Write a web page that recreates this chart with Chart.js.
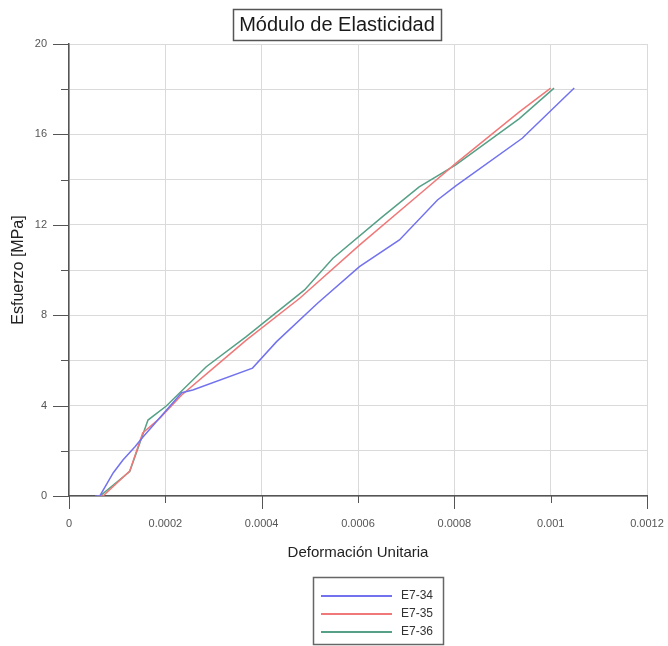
<!DOCTYPE html>
<html>
<head>
<meta charset="utf-8">
<title>Módulo de Elasticidad</title>
<script src="https://cdn.jsdelivr.net/npm/chart.js@4.4.0/dist/chart.umd.min.js"></script>
<style>
  html, body { margin: 0; padding: 0; background: #fff; }
  #wrap { width: 668px; height: 646px; position: relative; }
</style>
</head>
<body>
<div id="wrap"><canvas id="elasticChart"></canvas></div>
<script>
const chartTitle = 'Módulo de Elasticidad';
const xTitle = 'Deformación Unitaria';
const yTitle = 'Esfuerzo [MPa]';

const seriesNames = ['E7-34', 'E7-35', 'E7-36'];
const seriesColors = ['#7272ee', '#f07878', '#55a086'];

// strain (x) / stress in MPa (y)
const strainE734 = [0.000054, 0.000064, 0.000092, 0.000112, 0.000137, 0.000154, 0.000234, 0.000257, 0.000381, 0.000431, 0.000516, 0.000603, 0.000686, 0.000765, 0.000803, 0.000941, 0.001049];
const stressE734 = [0, 0, 1.03, 1.59, 2.18, 2.62, 4.57, 4.69, 5.66, 6.83, 8.53, 10.15, 11.33, 13.1, 13.72, 15.83, 18.05];

const strainE735 = [0.000058, 0.0000705, 0.000126, 0.000153, 0.000189, 0.000234, 0.000299, 0.000368, 0.000479, 0.000603, 0.000738, 0.000803, 0.000935, 0.001];
const stressE735 = [0, 0, 1.1, 2.79, 3.45, 4.47, 5.65, 6.9, 8.75, 11.1, 13.54, 14.72, 17.0, 18.05];

const strainE736 = [0.000058, 0.0000643, 0.000126, 0.000164, 0.000202, 0.000285, 0.000368, 0.000489, 0.000548, 0.000651, 0.000727, 0.000803, 0.000935, 0.001007];
const stressE736 = [0, 0, 1.08, 3.36, 3.98, 5.72, 7.05, 9.12, 10.52, 12.36, 13.68, 14.65, 16.7, 18.05];

const xMin = 0, xMax = 0.0012, xStep = 0.0002;
const yMin = 0, yMax = 20, yStep = 2;

const fontFamily = '"Liberation Sans", Arial, sans-serif';

function toPoints(xs, ys) {
  return xs.map((x, i) => ({ x: x, y: ys[i] }));
}

const allStrain = [strainE734, strainE735, strainE736];
const allStress = [stressE734, stressE735, stressE736];

const datasets = seriesNames.map((name, i) => ({
  label: name,
  data: toPoints(allStrain[i], allStress[i]),
  borderColor: seriesColors[i],
  backgroundColor: seriesColors[i],
  borderWidth: 1.5,
  pointRadius: 0,
  tension: 0,
  fill: false
}));

// boxed title at the top
const titleBox = {
  id: 'titleBox',
  afterDraw(chart) {
    const ctx = chart.ctx;
    ctx.save();
    ctx.font = '20px ' + fontFamily;
    const w = ctx.measureText(chartTitle).width;
    const cx = 337;
    ctx.strokeStyle = '#555';
    ctx.lineWidth = 1.5;
    ctx.strokeRect(Math.round(cx - w / 2 - 6) + 0.5, 9.5, Math.round(w + 12), 31);
    ctx.fillStyle = '#1a1a1a';
    ctx.textAlign = 'center';
    ctx.textBaseline = 'middle';
    ctx.fillText(chartTitle, cx, 25.5);
    ctx.restore();
  }
};

// long / short tick marks like the original plot
const axisTicks = {
  id: 'axisTicks',
  afterDraw(chart) {
    const { ctx, chartArea, scales } = chart;
    ctx.save();
    ctx.strokeStyle = '#555';
    ctx.lineWidth = 1;
    ctx.beginPath();
    scales.y.ticks.forEach(t => {
      const py = Math.round(scales.y.getPixelForValue(t.value)) + 0.5;
      const len = t.value % 4 === 0 ? 16 : 8;
      ctx.moveTo(chartArea.left - len, py);
      ctx.lineTo(chartArea.left, py);
    });
    scales.x.ticks.forEach((t, i) => {
      const px = Math.round(scales.x.getPixelForValue(t.value)) + 0.5;
      const len = i % 2 === 0 ? 13 : 7;
      ctx.moveTo(px, chartArea.bottom);
      ctx.lineTo(px, chartArea.bottom + len);
    });
    ctx.stroke();
    ctx.restore();
  }
};

// vertical legend in a box under the axis title
const boxLegend = {
  id: 'boxLegend',
  afterDraw(chart) {
    const ctx = chart.ctx;
    const left = 313, top = 577, width = 130, height = 67;
    ctx.save();
    ctx.fillStyle = '#fff';
    ctx.fillRect(left, top, width, height);
    ctx.strokeStyle = '#666';
    ctx.lineWidth = 1.5;
    ctx.strokeRect(left + 0.5, top + 0.5, width, height);
    ctx.font = '12px ' + fontFamily;
    ctx.textBaseline = 'middle';
    ctx.textAlign = 'left';
    chart.data.datasets.forEach((ds, i) => {
      const rowY = top + 19 + i * 18;
      ctx.strokeStyle = ds.borderColor;
      ctx.lineWidth = 2;
      ctx.beginPath();
      ctx.moveTo(left + 8, rowY);
      ctx.lineTo(left + 79, rowY);
      ctx.stroke();
      ctx.fillStyle = '#333';
      ctx.fillText(ds.label, left + 88, rowY);
    });
    ctx.restore();
  }
};

const ctx = document.getElementById('elasticChart').getContext('2d');

const chart = new Chart(ctx, {
  type: 'line',
  data: { datasets: datasets },
  options: {
    responsive: true,
    maintainAspectRatio: false,
    animation: false,
    layout: {
      padding: { top: 44, right: 21, bottom: 78, left: 0 }
    },
    plugins: {
      legend: { display: false },
      title: { display: false },
      tooltip: { enabled: false }
    },
    scales: {
      x: {
        type: 'linear',
        min: xMin,
        max: xMax,
        afterFit: s => {
          s.height = 72;
          s.paddingLeft = 0;
          s.paddingRight = 0;
        },
        grid: { color: '#dadada', lineWidth: 1, drawTicks: false },
        border: { color: '#555', width: 1.5 },
        ticks: {
          stepSize: xStep,
          padding: 21,
          color: '#555',
          font: { family: fontFamily, size: 11 },
          maxRotation: 0,
          callback: v => String(+Number(v).toFixed(5))
        },
        title: {
          display: true,
          text: xTitle,
          color: '#222',
          font: { family: fontFamily, size: 15 },
          padding: { top: 0, bottom: 6 }
        }
      },
      y: {
        type: 'linear',
        min: yMin,
        max: yMax,
        afterFit: s => {
          s.width = 69;
          s.paddingTop = 0;
          s.paddingBottom = 0;
        },
        grid: { color: '#dadada', lineWidth: 1, drawTicks: false },
        border: { color: '#555', width: 1.5 },
        ticks: {
          stepSize: yStep,
          padding: 22,
          color: '#555',
          font: { family: fontFamily, size: 11 },
          callback: v => (v % 4 === 0 ? v : '')
        },
        title: {
          display: true,
          text: yTitle,
          color: '#222',
          font: { family: fontFamily, size: 16 },
          padding: { top: 9, bottom: 0 }
        }
      }
    }
  },
  plugins: [titleBox, axisTicks, boxLegend]
});
</script>
</body>
</html>
